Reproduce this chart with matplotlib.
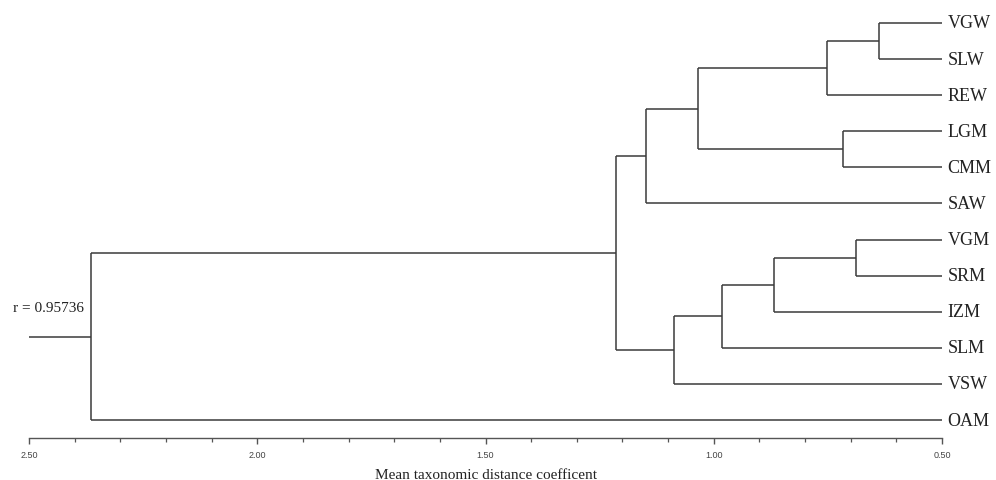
import matplotlib.pyplot as plt
from matplotlib.ticker import MultipleLocator, FormatStrFormatter

# leaves, top to bottom
leaves = ["VGW", "SLW", "REW", "LGM", "CMM", "SAW",
          "VGM", "SRM", "IZM", "SLM", "VSW", "OAM"]
# merges: ids 0..11 are leaves, each merge makes a new id (12, 13, ...)
merge_a = [0, 12, 3, 13, 15, 6, 17, 18, 19, 16, 21]
merge_b = [1, 2, 4, 14, 5, 7, 8, 9, 10, 20, 11]
merge_h = [0.638, 0.752, 0.717, 1.035, 1.148, 0.688, 0.868, 0.982, 1.087, 1.214, 2.364]
leaf_x = 0.50
root_x = 2.50
r_coph = "r = 0.95736"

lc = "#3a3a3a"
lw = 1.1

fig = plt.figure(figsize=(9.96, 4.81), dpi=100)
ax = fig.add_axes([29 / 996, 1 - 439 / 481, (942 - 29) / 996, 439 / 481])

xs = [leaf_x] * len(leaves)
ys = list(range(len(leaves)))
for a, b, h in zip(merge_a, merge_b, merge_h):
    ax.plot([xs[a], h], [ys[a], ys[a]], color=lc, lw=lw, solid_capstyle="butt")
    ax.plot([xs[b], h], [ys[b], ys[b]], color=lc, lw=lw, solid_capstyle="butt")
    ax.plot([h, h], [ys[a], ys[b]], color=lc, lw=lw, solid_capstyle="butt")
    xs.append(h)
    ys.append((ys[a] + ys[b]) / 2)

# stem of the root
ax.plot([xs[-1], root_x], [ys[-1], ys[-1]], color=lc, lw=lw, solid_capstyle="butt")
ax.annotate(r_coph, xy=(xs[-1], ys[-1]), xytext=(-5, 21), textcoords="offset points",
            ha="right", va="center", fontsize=11, family="Liberation Serif", color="#222222")

for i, name in enumerate(leaves):
    ax.annotate(name, xy=(leaf_x, i), xytext=(4, 0), textcoords="offset points",
                ha="left", va="center", fontsize=13, family="Liberation Serif",
                color="#222222", annotation_clip=False)

ax.set_xlim(2.5, 0.5)
ax.set_ylim(11 + 18 / 36.1, -24 / 36.1)
for s in ["left", "top", "right"]:
    ax.spines[s].set_visible(False)
ax.spines["bottom"].set_color("#555555")
ax.spines["bottom"].set_linewidth(1.0)
ax.set_yticks([])
ax.xaxis.set_major_locator(MultipleLocator(0.5))
ax.xaxis.set_minor_locator(MultipleLocator(0.1))
ax.xaxis.set_major_formatter(FormatStrFormatter("%.2f"))
ax.tick_params(axis="x", which="major", length=4.5, width=1.0, color="#555555",
               labelsize=6.5, labelcolor="#444444", pad=4.5)
ax.tick_params(axis="x", which="minor", length=3, width=0.9, color="#555555")
for t in ax.get_xticklabels():
    t.set_family("Liberation Sans")
ax.set_xlabel("Mean taxonomic distance coefficent", fontsize=11,
              family="Liberation Serif", color="#222222", labelpad=6)

fig.savefig("out.png", dpi=100)
